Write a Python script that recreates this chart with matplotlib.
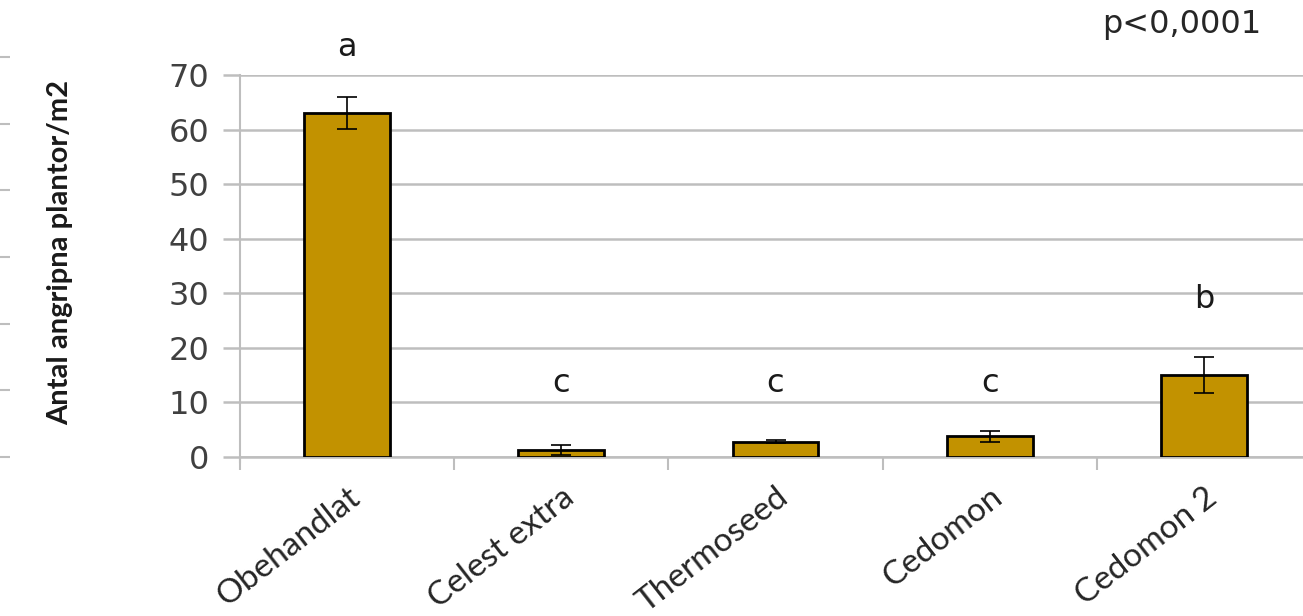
import matplotlib
matplotlib.use("Agg")
import matplotlib.pyplot as plt
import numpy as np

# Data
categories = ["Obehandlat", "Celest extra", "Thermoseed", "Cedomon", "Cedomon 2"]
means = [63.0, 1.3, 2.8, 3.8, 15.0]
errors = [2.9, 0.9, 0.3, 1.0, 3.3]
letters = ["a", "c", "c", "c", "b"]
letter_y = [75.0, 13.4, 13.4, 13.4, 28.8]
y_ticks = [0, 10, 20, 30, 40, 50, 60, 70]
p_text = "p<0,0001"
y_label = "Antal angripna plantor/m2"

BAR_COLOR = "#C29200"
GRID_COLOR = "#BEBEBE"

fig = plt.figure(figsize=(13.03, 6.16), dpi=100)

# leftover tick marks of a neighbouring chart at the very left edge
edge = fig.add_axes([0, 159 / 616, 0.01, 400 / 616])
edge.set_ylim(0, 6)
edge.set_yticks(range(7))
edge.set_yticklabels([])
edge.set_xticks([])
for s in ["top", "right", "bottom", "left"]:
    edge.spines[s].set_visible(False)
edge.tick_params(axis="y", direction="in", length=7, width=1.5, color=GRID_COLOR)
edge.patch.set_visible(False)

ax = fig.add_axes([240 / 1303, 159 / 616, 1071 / 1303, 382 / 616])

x = np.arange(len(categories))
ax.bar(x, means, width=0.4, color=BAR_COLOR, edgecolor="black", linewidth=2, zorder=3)
ax.errorbar(x, means, yerr=errors, fmt="none", ecolor="black", elinewidth=1.2,
            capsize=7, capthick=1.2, zorder=4)

ax.set_xlim(-0.5, len(categories) - 0.5)
ax.set_ylim(0, 70)
ax.set_yticks(y_ticks)
ax.yaxis.grid(True, color=GRID_COLOR, linewidth=1.8, zorder=0)
ax.set_axisbelow(True)

for s in ["top", "right"]:
    ax.spines[s].set_visible(False)
ax.spines["left"].set_color(GRID_COLOR)
ax.spines["left"].set_linewidth(1.5)
ax.spines["left"].set_bounds(-1, 70)
ax.spines["bottom"].set_color(GRID_COLOR)
ax.spines["bottom"].set_linewidth(1.8)

ax.tick_params(axis="y", length=12, width=1.8, color=GRID_COLOR, pad=10,
               labelsize=23, labelcolor="#404040")
for lab in ax.get_yticklabels():
    lab.set_fontfamily("DejaVu Sans")

# category ticks between groups, labels at bar centres
ax.set_xticks(np.arange(len(categories) + 1) - 0.5)
ax.set_xticklabels([])
ax.tick_params(axis="x", length=9, width=1.5, color=GRID_COLOR)
ax.set_xticks(x, minor=True)
ax.set_xticklabels(categories, minor=True, rotation=38, ha="right",
                   rotation_mode="anchor", fontsize=24, fontfamily="Lato",
                   color="#262626")
ax.tick_params(axis="x", which="minor", length=0, pad=18)

for xi, lt, ly in zip(x, letters, letter_y):
    ax.text(xi, ly, lt, ha="center", va="center", fontsize=23,
            fontfamily="DejaVu Sans", color="#1a1a1a", clip_on=False)

fig.text(1182 / 1303, 1 - 25 / 616, p_text, ha="center", va="center",
         fontsize=23, fontfamily="DejaVu Sans", color="#262626")

ax.set_ylabel(y_label, fontsize=21, fontfamily="Lato", fontweight="bold",
              color="#1a1a1a")
ax.yaxis.set_label_coords((73 - 240) / 1071, (457 - 252) / 382)

fig.savefig("out.png", dpi=100)
